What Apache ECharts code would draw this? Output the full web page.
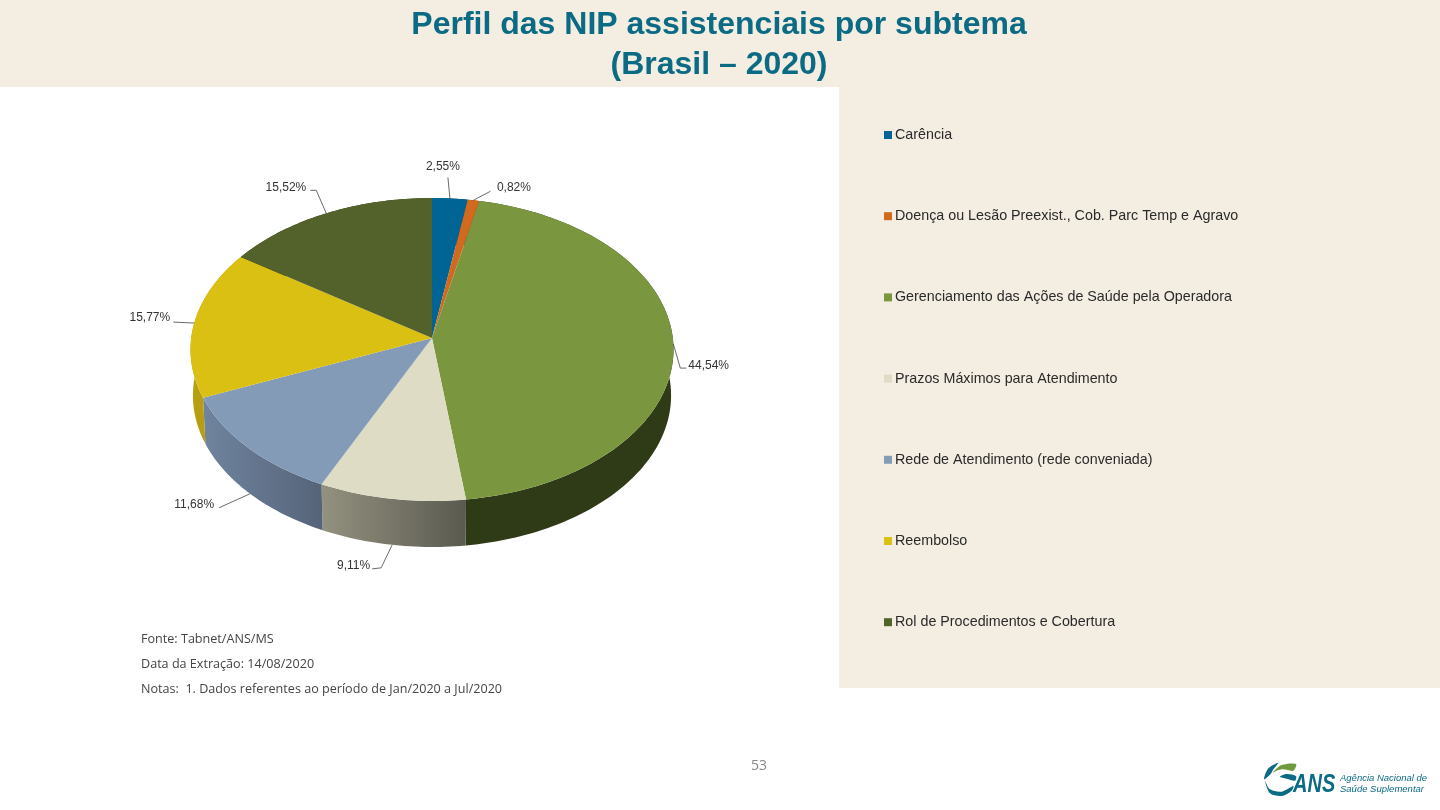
<!DOCTYPE html>
<html><head><meta charset="utf-8">
<style>html,body{margin:0;padding:0;background:#fff}#c{width:1440px;height:810px}</style>
<script src="https://cdn.jsdelivr.net/npm/echarts@6/dist/echarts.min.js"></script>
</head><body><div id="c"></div>
<script>
const categories = ["Carência","Doença ou Lesão Preexist., Cob. Parc Temp e Agravo","Gerenciamento das Ações de Saúde pela Operadora","Prazos Máximos para Atendimento","Rede de Atendimento (rede conveniada)","Reembolso","Rol de Procedimentos e Cobertura"];
const shares = [2.55,0.82,44.54,9.11,11.68,15.77,15.52];
const shareLabels = ["2,55%","0,82%","44,54%","9,11%","11,68%","15,77%","15,52%"];
const topColors = ["#006595","#d2691f","#7a963e","#dfdcc6","#849bb7","#dbc014","#52622a"];
const wallColors = [["#004a6d","#004a6d"],["#8f4715","#8f4715"],["#2f3a17","#2f3a17"],["#93917f","#5a5a50"],["#70849f","#556479"],["#b79e10","#b79e10"],["#333d1a","#333d1a"]];
const leaders = [
 {elbow:[-2,-21],end:[-2,-21],text:[-7,-32],align:"center",wall:false},
 {elbow:[17,-9],end:[17,-9],text:[23.5,-13],align:"left",wall:false},
 {elbow:[7,24],end:[13,24],text:[15,22],align:"left",wall:false},
 {elbow:[-11,23],end:[-20,24],text:[-22,21],align:"right",wall:true},
 {elbow:[-31,14],end:[-31,14],text:[-36,11],align:"right",wall:true},
 {elbow:[-21,-1],end:[-21,-1],text:[-24,-5],align:"right",wall:false},
 {elbow:[-10,-23],end:[-16,-23],text:[-20,-26],align:"right",wall:false}
];
const disc = {cx:432,cy:338,a:240.8,b:150.6,k:0.0759,depth:46,wallScale:0.99};
const total = shares.reduce((s,v)=>s+v,0);

function rim(theta){
  const d = 1 + disc.k*Math.cos(theta);
  return [disc.cx + disc.a*Math.sin(theta)/d, disc.cy - disc.b*Math.cos(theta)/d];
}
function lowerRim(theta){
  const p = rim(theta);
  return [disc.cx + (p[0]-disc.cx)*disc.wallScale, p[1] + disc.depth];
}
function arc(fn,t0,t1){
  const n = Math.max(2,Math.ceil((t1-t0)/0.02)), out = [];
  for(let i=0;i<=n;i++) out.push(fn(t0+(t1-t0)*i/n));
  return out;
}
function sliceRenderer(i){
  return function(params,api){
    const v = api.value(0);
    const before = shares.slice(0,i).reduce((s,x)=>s+x,0);
    const t0 = before/total*Math.PI*2, t1 = (before+v)/total*Math.PI*2, mid=(t0+t1)/2;
    const upper = arc(rim,t0,t1), lower = arc(lowerRim,t0,t1).reverse();
    const L = leaders[i];
    const anchor = L.wall ? lowerRim(mid) : rim(mid);
    const at = o => [anchor[0]+o[0],anchor[1]+o[1]];
    const xs = upper.map(p=>p[0]);
    return {type:"group",children:[
      {type:"polygon",z2:1,shape:{points:upper.concat(lower)},silent:true,
       style:{fill:new echarts.graphic.LinearGradient(Math.min(...xs),0,Math.max(...xs),0,
         [{offset:0,color:wallColors[i][0]},{offset:1,color:wallColors[i][1]}],true)}},
      {type:"polygon",z2:10,shape:{points:[[disc.cx,disc.cy]].concat(upper)},
       style:{fill:topColors[i]}},
      {type:"polyline",z2:12,shape:{points:[anchor,at(L.elbow),at(L.end)]},silent:true,
       style:{fill:null,stroke:"#444",lineWidth:0.8}},
      {type:"text",z2:12,x:at(L.text)[0],y:at(L.text)[1],silent:true,
       style:{text:shareLabels[i],fill:"#333",font:'12px "Liberation Sans"',align:L.align,verticalAlign:"middle"}}
    ]};
  };
}
const note = (text,y)=>({type:"text",x:141,y,style:{text,fill:"#444",font:'12.6px "Open Sans"',verticalAlign:"middle"}});
const logoPoints = ps => ps.map(p=>[1240+p[0]/3,750+p[1]/3]);
const logoPart = (ps,fill)=>({type:"polygon",shape:{points:logoPoints(ps),smooth:0.3},style:{fill}});
const chart = echarts.init(document.getElementById("c"),null,{renderer:"canvas"});
chart.setOption({
  animation:false,
  backgroundColor:"#ffffff",
  title:{text:"Perfil das NIP assistenciais por subtema\n(Brasil – 2020)",left:714,top:0,textAlign:"center",
    textStyle:{fontFamily:"Liberation Sans",fontWeight:"bold",fontSize:32,lineHeight:40,color:"#0b6b85"}},
  legend:{orient:"vertical",left:879,top:123,itemWidth:8,itemHeight:8,itemGap:67.2,icon:"rect",selectedMode:false,
    data:categories,textStyle:{fontFamily:"Liberation Sans",fontSize:14.3,color:"#2a2a2a",padding:[0,0,0,-2]}},
  graphic:[
    {type:"rect",z:-10,shape:{x:0,y:0,width:1440,height:87},style:{fill:"#f4ede1"}},
    {type:"rect",z:-10,shape:{x:839,y:87,width:601,height:601},style:{fill:"#f4ede1"}},
    note("Fonte: Tabnet/ANS/MS",639),
    note("Data da Extração: 14/08/2020",664),
    note("Notas:  1. Dados referentes ao período de Jan/2020 a Jul/2020",689),
    {type:"text",x:759,y:766,style:{text:"53",fill:"#888",font:'14px "Open Sans"',align:"center",verticalAlign:"middle"}},
    logoPart([[72,88],[85,55],[115,38],[100,58],[92,72]],"#0b6b85"),
    logoPart([[98,68],[125,45],[168,42],[160,62],[130,58],[110,62]],"#6f9a3c"),
    logoPart([[120,80],[140,72],[168,78],[165,92],[140,86]],"#0b6b85"),
    logoPart([[75,92],[90,118],[125,125],[160,108],[155,122],[125,138],[90,130]],"#0b6b85"),
    {type:"text",x:1293,y:785,scaleX:0.8,style:{text:"ANS",fill:"#0b6b85",font:'italic bold 25px "Liberation Sans"',verticalAlign:"middle"}},
    {type:"text",x:1340,y:778,style:{text:"Agência Nacional de",fill:"#0b6b85",font:'italic 9.5px "Liberation Sans"',verticalAlign:"middle"}},
    {type:"text",x:1340,y:789,style:{text:"Saúde Suplementar",fill:"#0b6b85",font:'italic 9.5px "Liberation Sans"',verticalAlign:"middle"}}
  ],
  series:categories.map((name,i)=>({
    type:"custom",name,coordinateSystem:"none",silent:true,
    itemStyle:{color:topColors[i]},
    renderItem:sliceRenderer(i),
    data:[{name,value:[shares[i]]}]
  }))
});
</script></body></html>
